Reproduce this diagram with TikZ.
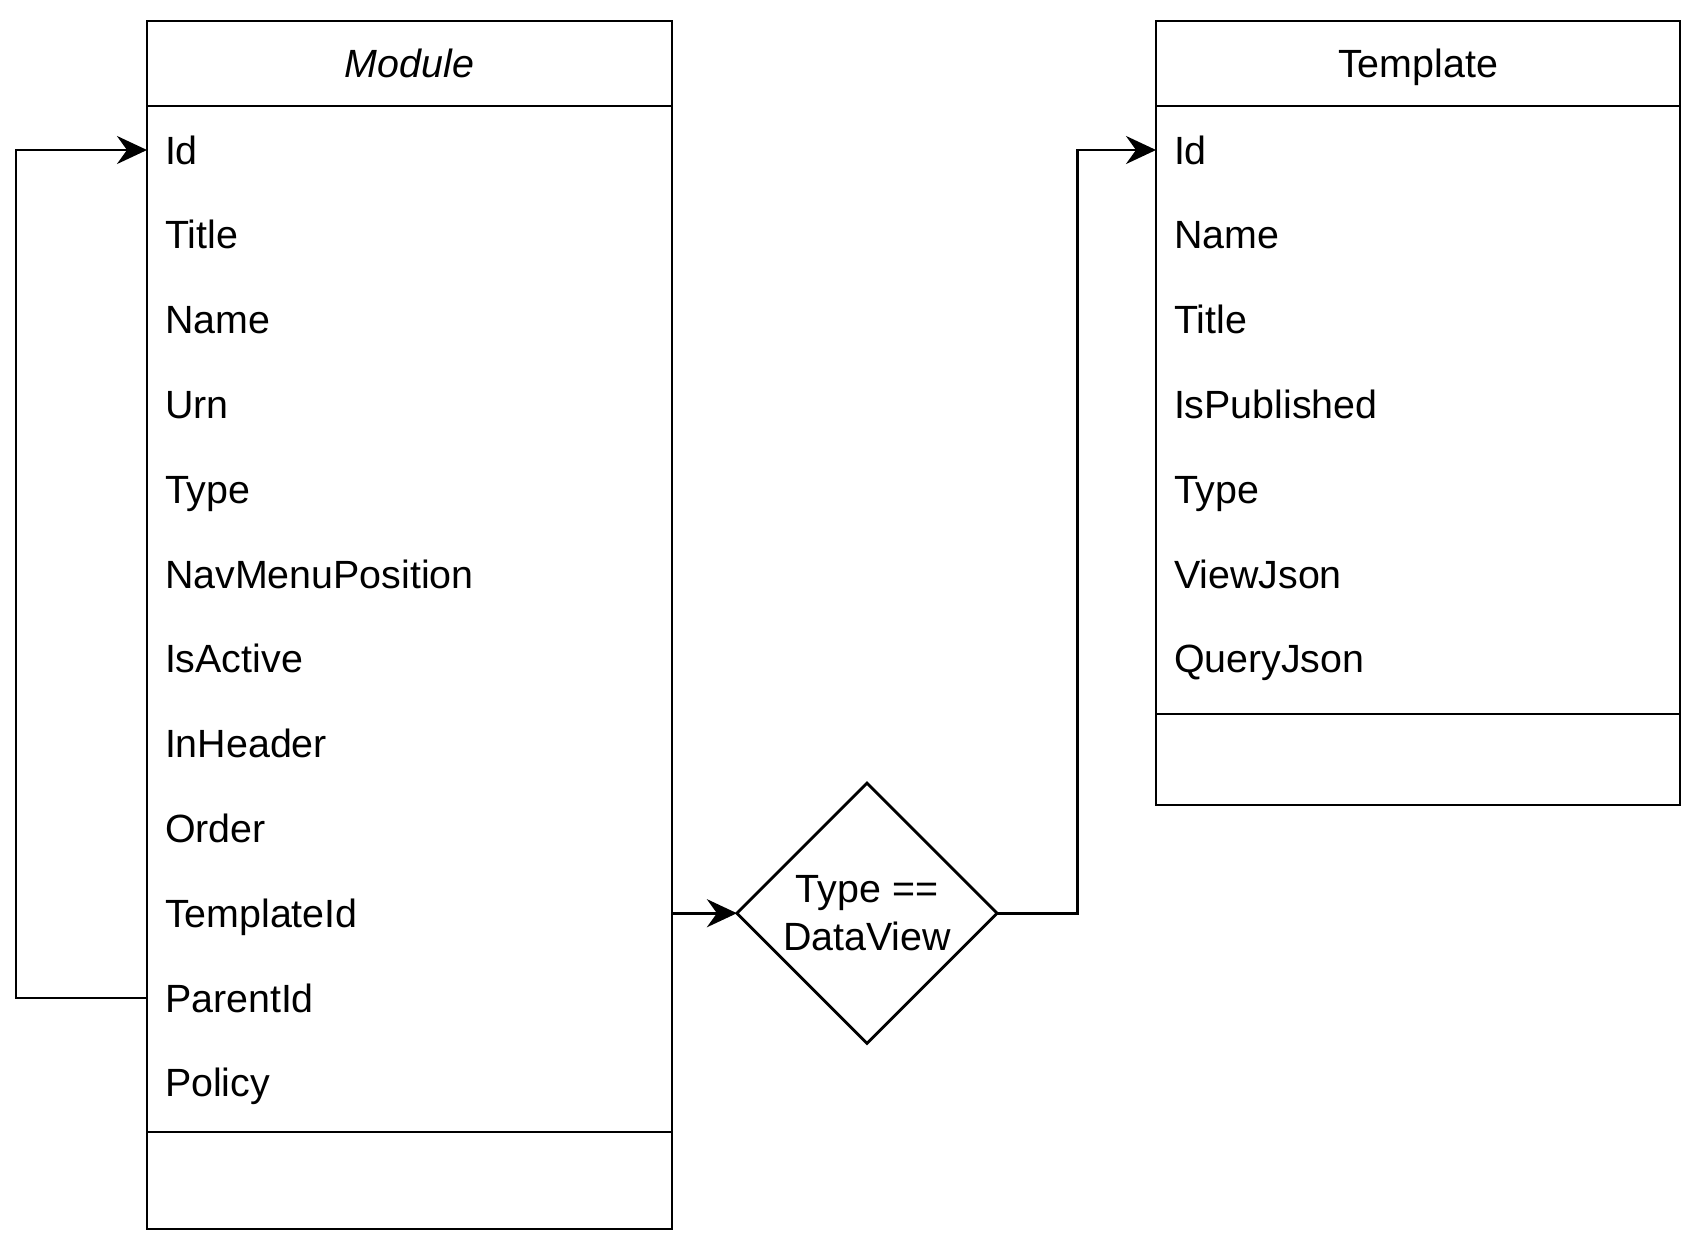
\documentclass[tikz,border=0pt]{standalone}
\usepackage{fontspec}
\setmainfont{Liberation Sans}
\usetikzlibrary{shapes.geometric,arrows.meta}

\tikzset{
  field/.style={anchor=west, inner xsep=0.18cm, inner ysep=0pt, outer sep=0pt, text width=4.89cm, align=left, text height=0.28cm, text depth=0cm},
  title/.style={anchor=center, text height=0.28cm, text depth=0cm},
  cond/.style={diamond, draw, minimum width=2.6cm, minimum height=2.6cm, inner sep=0pt, outer sep=0pt, align=center},
  link/.style={-{Stealth[length=0.3cm,width=0.28cm,inset=0.1cm]}},
}

\begin{document}
\begin{tikzpicture}[x=0.01cm, y=-0.01cm, line width=0.8pt, font=\fontsize{11.2}{13.6}\selectfont]
\useasboundingbox (0,0) rectangle (1698,1242);

  \begin{scope}
\draw (147,21) rectangle (672,1229);
\draw (147,106) -- (672,106);
\draw (147,1132) -- (672,1132);

\node[title] (mHead) at (409.5,63.5) {\itshape Module};
\node[field] (mId) at (147,150) {Id};
\node[field] (mTitle) at (147,234.8) {Title};
\node[field] (mName) at (147,319.6) {Name};
\node[field] (mUrn) at (147,404.4) {Urn};
\node[field] (mType) at (147,489.2) {Type};
\node[field] (mNavMenuPosition) at (147,574) {NavMenuPosition};
\node[field] (mIsActive) at (147,658.8) {IsActive};
\node[field] (mInHeader) at (147,743.6) {InHeader};
\node[field] (mOrder) at (147,828.4) {Order};
\node[field] (mTemplateId) at (147,913.2) {TemplateId};
\node[field] (mParentId) at (147,998) {ParentId};
\node[field] (mPolicy) at (147,1082.8) {Policy};
\end{scope}

  \begin{scope}
\draw (1156,21) rectangle (1680,805);
\draw (1156,106) -- (1680,106);
\draw (1156,714) -- (1680,714);

\node[title] (tHead) at (1418,63.5) {Template};
\node[field] (tId) at (1156,150) {Id};
\node[field] (tName) at (1156,234.8) {Name};
\node[field] (tTitle) at (1156,319.6) {Title};
\node[field] (tIsPublished) at (1156,404.4) {IsPublished};
\node[field] (tType) at (1156,489.2) {Type};
\node[field] (tViewJson) at (1156,574) {ViewJson};
\node[field] (tQueryJson) at (1156,658.8) {QueryJson};
\end{scope}

\node[cond] (isDataView) at (867,913.2) {Type ==\\DataView};

\draw[link] (mParentId.west) -- ++(-131,0) |- (mId.west);
\draw[link] (mTemplateId.east) -- (isDataView.west);
\draw[link] (isDataView.east) -- ++(80,0) |- (tId.west);

\end{tikzpicture}
\end{document}
